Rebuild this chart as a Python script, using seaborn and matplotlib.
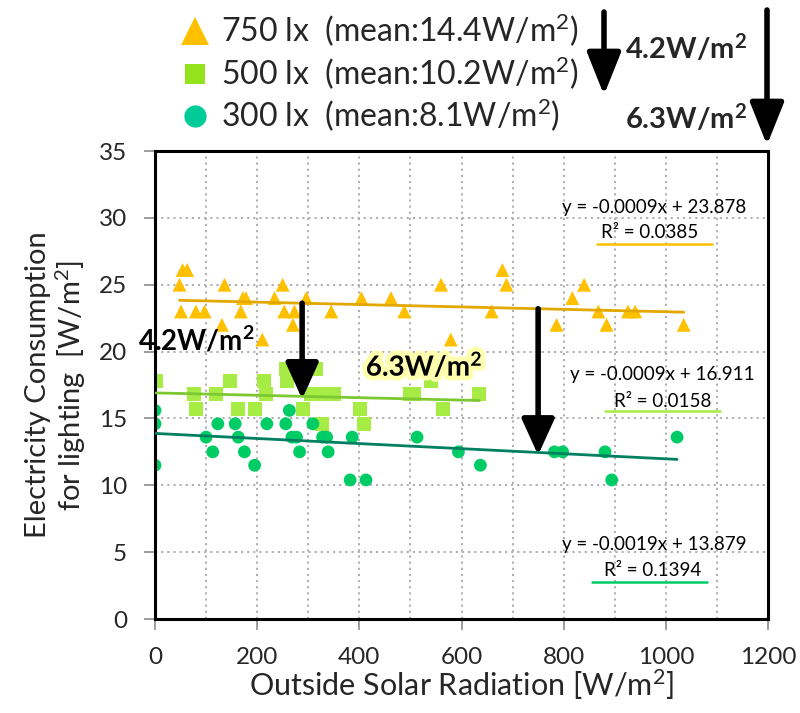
import numpy as np
import pandas as pd
import matplotlib
matplotlib.use("Agg")
import matplotlib.pyplot as plt
import seaborn as sns
from matplotlib.lines import Line2D
import matplotlib.patheffects as pe

# ---------------- data ----------------
x750 = [54, 63, 48, 136, 250, 172, 178, 234, 296, 51, 80, 97, 168, 253, 273, 345,
        131, 270, 210, 404, 462, 488, 560, 579, 659, 680, 688, 786, 817, 840, 868,
        884, 926, 940, 1035]
y750 = [26.1, 26.1, 25, 25, 25, 24, 24, 24, 24, 23, 23, 23, 23, 23, 23, 23,
        22, 22, 20.9, 24, 24, 23, 25, 20.9, 23, 26.1, 25, 22, 24, 25, 23,
        22, 23, 23, 22]

x500 = [2, 77, 80, 120, 147, 162, 196, 214, 217, 256, 258, 289, 315, 305, 328,
        351, 327, 401, 410, 499, 508, 540, 563, 635]
y500 = [17.8, 16.8, 15.7, 16.8, 17.8, 15.7, 15.7, 17.8, 16.8, 18.7, 17.8, 15.7,
        18.7, 16.8, 16.8, 16.8, 14.6, 15.7, 14.6, 16.8, 16.8, 17.8, 15.7, 16.8]

x300 = [0, 0, 0, 100, 113, 123, 157, 163, 175, 195, 219, 256, 263, 268, 277, 283,
        309, 328, 336, 339, 386, 382, 413, 513, 594, 637, 782, 798, 881, 894, 1022]
y300 = [15.6, 14.6, 11.5, 13.6, 12.5, 14.6, 14.6, 13.6, 12.5, 11.5, 14.6, 14.6,
        15.6, 13.6, 13.6, 12.5, 14.6, 13.6, 13.6, 12.5, 13.6, 10.4, 10.4, 13.6,
        12.5, 11.5, 12.5, 12.5, 12.5, 10.4, 13.6]

series_labels = ["750 lx  (mean:14.4W/m$^{2}$)",
                 "500 lx  (mean:10.2W/m$^{2}$)",
                 "300 lx  (mean:8.1W/m$^{2}$)"]
slopes = [-0.0009, -0.0009, -0.0019]
intercepts = [23.878, 16.911, 13.879]
eq_texts = ["y = -0.0009x + 23.878", "y = -0.0009x + 16.911", "y = -0.0019x + 13.879"]
r2_texts = ["R² = 0.0385", "R² = 0.0158", "R² = 0.1394"]

arrow_x = [288, 750]
arrow_labels = ["4.2W/m$^{\\mathbf{2}}$", "6.3W/m$^{\\mathbf{2}}$"]

xticks = [0, 200, 400, 600, 800, 1000, 1200]
yticks = [0, 5, 10, 15, 20, 25, 30, 35]

# ---------------- style ----------------
sns.set_theme(style="white")
plt.rcParams["font.family"] = ["Lato", "DejaVu Sans"]
plt.rcParams["mathtext.fontset"] = "custom"
plt.rcParams["mathtext.rm"] = "Lato"
plt.rcParams["mathtext.it"] = "Lato:italic"
plt.rcParams["mathtext.bf"] = "Lato:bold"

marker_colors = ["#FFC000", "#A6EC44", "#00CC66"]
legend_colors = ["#FFC000", "#92E21C", "#00CC99"]
line_colors = ["#E2A800", "#7CC832", "#008060"]
underline_colors = ["#FFC000", "#A6EC44", "#00CC66"]
markers = ["^", "s", "o"]
sizes = [100, 100, 85]

W, H = 800, 713
fig = plt.figure(figsize=(W / 100, H / 100), dpi=100)
ax = fig.add_axes([155 / W, 1 - 619 / H, (768 - 155) / W, (619 - 151) / H])

datasets = [(x750, y750), (x500, y500), (x300, y300)]
for i, (xs, ys) in enumerate(datasets):
    df = pd.DataFrame({"x": xs, "y": ys})
    sns.scatterplot(data=df, x="x", y="y", ax=ax, marker=markers[i], s=sizes[i],
                    color=marker_colors[i], edgecolor="none", linewidth=0, zorder=2)
for i, (xs, ys) in enumerate(datasets):
    lx = np.array([min(xs), max(xs)], dtype=float)
    ly = slopes[i] * lx + intercepts[i]
    sns.lineplot(x=lx, y=ly, ax=ax, color=line_colors[i], lw=2, zorder=3)

ax.set_xlim(0, 1200)
ax.set_ylim(0, 35)
ax.set_xticks(xticks)
ax.set_xticks(np.arange(100, 1200, 200), minor=True)
ax.set_yticks(yticks)
ax.grid(True, which="both", axis="x", ls=(0, (1.2, 2.2)), color="#A8A8A8", lw=1.3)
ax.grid(True, which="major", axis="y", ls=(0, (1.2, 2.2)), color="#A8A8A8", lw=1.3)
ax.set_axisbelow(True)
ax.tick_params(axis="both", which="major", direction="out", length=8, width=1.2,
               color="#8C8C8C", labelsize=17.5, bottom=True, left=True)
ax.tick_params(axis="y", which="major", pad=12)
ax.tick_params(axis="x", which="major", pad=12)
ax.tick_params(axis="x", which="minor", length=0)
for sp in ax.spines.values():
    sp.set_color("black")
    sp.set_linewidth(2.2)

ax.set_xlabel("Outside Solar Radiation [W/m$^{2}$]", fontsize=22, labelpad=0)
ax.set_ylabel("Electricity Consumption\nfor lighting  [W/m$^{2}$]", fontsize=21,
              labelpad=8, linespacing=1.1)

# trendline equations
eq_pos = [(977, 30.8), (993, 18.3), (977, 5.6)]
r2_pos = [(969, 28.9), (994, 16.25), (975, 3.6)]
ul = [((866, 1091), 28.07), ((881, 1106), 15.53), ((856, 1081), 2.8)]
for i in range(3):
    ax.text(*eq_pos[i], eq_texts[i], ha="center", va="center", fontsize=13.5, color="black", zorder=6)
    ax.text(*r2_pos[i], r2_texts[i], ha="center", va="center", fontsize=13.5, color="black", zorder=6)
    ax.plot(list(ul[i][0]), [ul[i][1]] * 2, color=underline_colors[i], lw=1.8, zorder=6)

# in-plot arrows between trend lines
aprops = dict(arrowstyle="-|>,head_length=1.1,head_width=0.5", color="black", lw=4,
              mutation_scale=20, shrinkA=0, shrinkB=0)
ax.annotate("", xy=(arrow_x[0], slopes[1] * arrow_x[0] + intercepts[1] - 0.2),
            xytext=(arrow_x[0], slopes[0] * arrow_x[0] + intercepts[0]),
            arrowprops=aprops, zorder=7)
ax.annotate("", xy=(arrow_x[1], slopes[2] * arrow_x[1] + intercepts[2] - 0.2),
            xytext=(arrow_x[1], slopes[0] * arrow_x[1] + intercepts[0]),
            arrowprops=aprops, zorder=7)
ax.text(81, 20.8, arrow_labels[0], ha="center", va="center", fontsize=20,
        fontweight="bold", color="black", zorder=8, clip_on=False)
ax.text(527, 18.95, arrow_labels[1], ha="center", va="center", fontsize=20,
        fontweight="bold", color="black", zorder=8,
        path_effects=[pe.withStroke(linewidth=7, foreground="#FFFFB0")])

# top legend
handles = [Line2D([], [], marker=markers[i], ls="none", color=legend_colors[i],
                  markeredgewidth=0, markersize=[20, 15, 16][i]) for i in range(3)]
fig.legend(handles, series_labels, loc="upper left",
           bbox_to_anchor=(181 / W, 1 - 12 / H), bbox_transform=fig.transFigure,
           frameon=False, fontsize=23, handlelength=0.9, handletextpad=0.35,
           labelspacing=0.16, borderaxespad=0, borderpad=0)

# top-right arrows and labels (figure pixels)
fprops = dict(arrowstyle="-|>,head_length=1.3,head_width=0.52", color="black", lw=4,
              mutation_scale=20, shrinkA=0, shrinkB=0)
ax.annotate("", xy=(604, H - 95), xytext=(604, H - 12), xycoords="figure pixels",
            textcoords="figure pixels", arrowprops=fprops, annotation_clip=False)
ax.annotate("", xy=(767, H - 145), xytext=(767, H - 10), xycoords="figure pixels",
            textcoords="figure pixels", arrowprops=fprops, annotation_clip=False)
fig.text(686 / W, 1 - 48 / H, arrow_labels[0], ha="center", va="center", fontsize=21,
         fontweight="bold")
fig.text(686 / W, 1 - 118 / H, arrow_labels[1], ha="center", va="center", fontsize=21,
         fontweight="bold")

fig.savefig("out.png", dpi=100)
